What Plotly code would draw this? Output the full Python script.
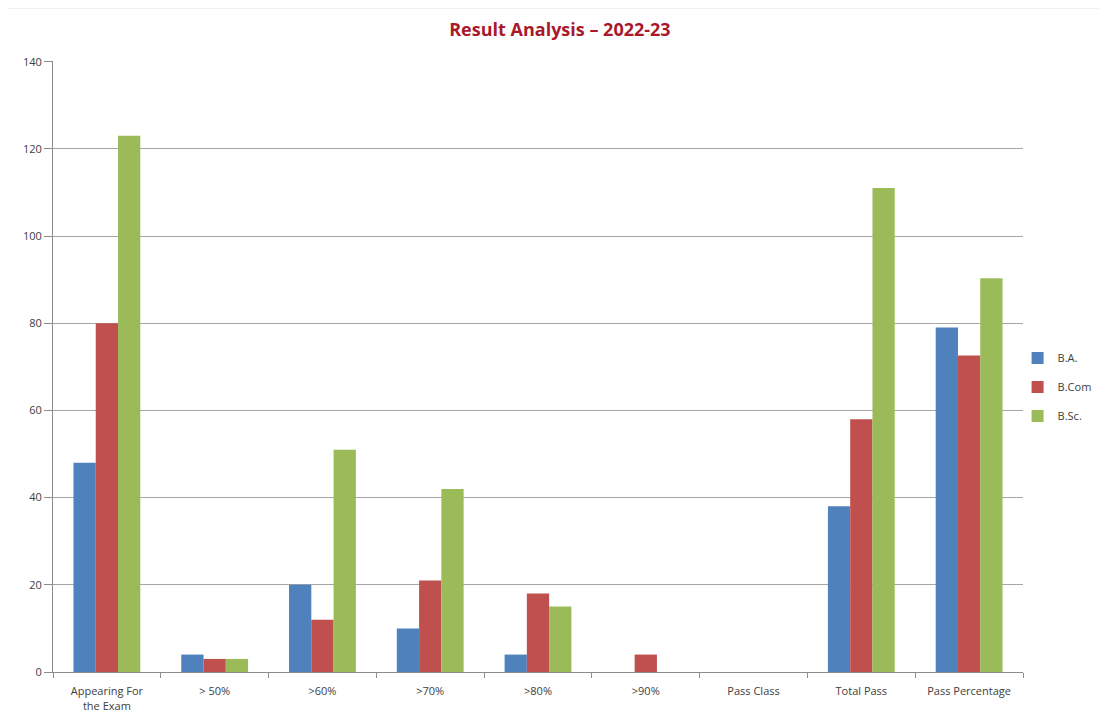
import plotly.graph_objects as go

categories = ["Appearing For<br>the Exam", "> 50%", ">60%", ">70%", ">80%", ">90%",
              "Pass Class", "Total Pass", "Pass Percentage"]
ba = [48, 4, 20, 10, 4, 0, 0, 38, 79]
bcom = [80, 3, 12, 21, 18, 4, 0, 58, 72.6]
bsc = [123, 3, 51, 42, 15, 0, 0, 111, 90.3]
series_names = ["B.A.", "B.Com", "B.Sc."]
colors = ["#4F81BD", "#C0504D", "#9BBB59"]
y_ticks = [0, 20, 40, 60, 80, 100, 120, 140]

fig = go.Figure()
for name, vals, col in zip(series_names, [ba, bcom, bsc], colors):
    fig.add_trace(go.Bar(x=categories, y=vals, name=name, marker_color=col,
                         marker_line_width=0, legendgroup=name))

font_family = "Open Sans, Liberation Sans, sans-serif"
fig.update_layout(
    width=1107, height=724,
    paper_bgcolor="white", plot_bgcolor="white",
    margin=dict(l=45, r=92, t=53, b=60, autoexpand=False),
    barmode="group", bargap=0.38, bargroupgap=0,
    title=dict(text="<b>Result Analysis – 2022-23</b>", x=0.4986, xref="container",
               xanchor="center", y=0.97, yref="container", yanchor="middle",
               font=dict(family=font_family, size=18, color="#A8192B")),
    font=dict(family=font_family, size=11, color="#404040"),
    legend=dict(x=0.912, xref="container", xanchor="left", y=0.4765, yref="container",
                yanchor="middle",
                font=dict(size=11, color="#404040"), itemwidth=30,
                tracegroupgap=10, bgcolor="rgba(0,0,0,0)"),
    xaxis=dict(type="category", showline=True, linecolor="#8C8C8C", linewidth=1,
               ticks="outside", tickson="boundaries", ticklen=5, tickcolor="#8C8C8C",
               ticklabelstandoff=9,
               showgrid=False, tickfont=dict(size=11, color="#404040")),
    yaxis=dict(range=[0, 140.15], tickvals=y_ticks, showline=True, linecolor="#8C8C8C",
               linewidth=1, ticks="outside", ticklen=8, tickcolor="#8C8C8C",
               showgrid=True, gridcolor="#A6A6A6", gridwidth=1, zeroline=False,
               tickfont=dict(size=11, color="#404040")),
    shapes=[dict(type="rect", xref="paper", yref="paper", x0=-0.047, x1=1.095,
                 y0=-0.098, y1=1.087, line=dict(color="#D0D0D0", width=1),
                 fillcolor="rgba(0,0,0,0)", layer="below")],
)

fig.write_html("out.html")
